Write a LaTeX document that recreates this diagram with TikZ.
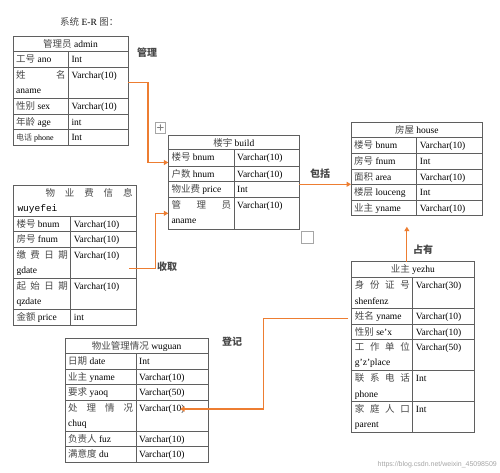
\documentclass[tikz,border=0pt]{standalone}
\usepackage{fontspec}
\setmainfont{Liberation Serif}
\setmonofont{Liberation Mono}
\setsansfont{Liberation Sans}
\newfontfamily\cjk{Noto Sans CJK SC}
\usetikzlibrary{calc,arrows.meta}
\definecolor{wordorange}{HTML}{ED7D31}
\definecolor{rulegray}{HTML}{5F5F5F}
\definecolor{zhgray}{HTML}{484848}
\tikzset{
  rowbox/.style={draw=rulegray, line width=0.7pt, inner sep=0pt, outer sep=0pt},
  cell/.style={anchor=base west, inner sep=0pt, font=\fontsize{9.5}{11}\selectfont},
  conn/.style={draw=wordorange, line width=1.1pt, -{Triangle[length=4.5pt,width=5pt]}},
  rel/.style={anchor=west, inner sep=0pt, font=\fontsize{10}{12}\selectfont\bfseries}
}
\newcommand\zh[1]{{\cjk\color{zhgray}#1}}
\newcommand\settable[3]{\def\xl{#1}\def\xm{#2}\def\xr{#3}}
\newcommand\spread[1]{\hbox to \dimexpr\xm pt-\xl pt-6pt\relax{#1}}
% header row: name, top, bottom, text
\newcommand\ehead[4]{%
  \pgfmathsetmacro\rw{\xr-\xl}
  \pgfmathsetmacro\rh{#3-#2}
  \node[rowbox, minimum width=\rw pt, minimum height=\rh pt] (#1) at ({(\xl+\xr)/2},{(#2+#3)/2}) {};
  \node[cell, anchor=base] (#1t) at ({(\xl+\xr)/2},#2+11) {#4};
}
% field row: name, top, bottom, field, field 2nd line, type
\newcommand\erow[6]{%
  \pgfmathsetmacro\rw{\xr-\xl}
  \pgfmathsetmacro\rh{#3-#2}
  \node[rowbox, minimum width=\rw pt, minimum height=\rh pt] (#1) at ({(\xl+\xr)/2},{(#2+#3)/2}) {};
  \draw[rulegray, line width=0.7pt] (\xm,#2) -- (\xm,#3);
  \node[cell] (#1a) at (\xl+3,#2+11) {#4};
  \if\relax\detokenize{#5}\relax\else
    \node[cell] (#1b) at (\xl+3,#2+26.5) {#5};
  \fi
  \node[cell] (#1c) at (\xm+3,#2+11) {#6};
}

\begin{document}
\begin{tikzpicture}[x=1pt, y=-1pt]
  \fill[white] (0,0) rectangle (500,472);
  \useasboundingbox (0,0) rectangle (500,472);

  \node[cell] (title) at (60,25.5) {\zh{系统} E-R \zh{图：}};

  % admin
  \settable{13}{68.3}{128}
  \ehead{admin}{36.7}{51.7}{\zh{管理员} admin}
  \erow{admin1}{51.7}{67.3}{\zh{工号} ano}{}{Int}
  \erow{admin2}{67.3}{98.3}{\spread{\zh{姓}\hfill\zh{名}}}{aname}{Varchar(10)}
  \erow{admin3}{98.3}{114}{\zh{性别} sex}{}{Varchar(10)}
  \erow{admin4}{114}{129.3}{\zh{年龄} age}{}{int}
  \erow{admin5}{129.3}{145.7}{\fontsize{8}{9}\selectfont\zh{电话} phone}{}{Int}

  % build
  \settable{168.3}{234}{299.3}
  \ehead{build}{135}{149.3}{\zh{楼宇} build}
  \erow{build1}{149.3}{166.7}{\zh{楼号} bnum}{}{Varchar(10)}
  \erow{build2}{166.7}{181.7}{\zh{户数} hnum}{}{Varchar(10)}
  \erow{build3}{181.7}{197.3}{\zh{物业费} price}{}{Int}
  \erow{build4}{197.3}{229.3}{\spread{\zh{管}\hfill\zh{理}\hfill\zh{员}}}{aname}{Varchar(10)}
  \draw[gray!70, line width=0.5pt] ([shift={(-13,-13)}]build.north west) rectangle ++(10,11);
  \draw[gray, line width=0.4pt, {Stealth[length=1.5pt]}-{Stealth[length=1.5pt]}] ([shift={(-11.5,-7.5)}]build.north west) -- ++(7,0);
  \draw[gray, line width=0.4pt, {Stealth[length=1.5pt]}-{Stealth[length=1.5pt]}] ([shift={(-8,-11)}]build.north west) -- ++(0,7);
  \draw[gray!70, line width=0.5pt] ([shift={(1.5,1.5)}]build4.south east) rectangle ++(12,12);

  % house
  \settable{351}{416.7}{482.7}
  \ehead{house}{122.3}{137.7}{\zh{房屋} house}
  \erow{house1}{137.7}{153.3}{\zh{楼号} bnum}{}{Varchar(10)}
  \erow{house2}{153.3}{169}{\zh{房号} fnum}{}{Int}
  \erow{house3}{169}{184.3}{\zh{面积} area}{}{Varchar(10)}
  \erow{house4}{184.3}{200}{\zh{楼层} louceng}{}{Int}
  \erow{house5}{200}{215.7}{\zh{业主} yname}{}{Varchar(10)}

  % wuyefei
  \settable{13.3}{70.7}{136.7}
  \node[rowbox, minimum width=123.4pt, minimum height=31pt] (wuyefei) at (75,200.5) {};
  \node[cell, anchor=base east] (wuyefeit) at (\xr-4,196) {\hbox to 87pt{\zh{物}\hfill\zh{业}\hfill\zh{费}\hfill\zh{信}\hfill\zh{息}}};
  \node[cell] (wuyefeis) at (\xl+4,211.5) {\ttfamily wuyefei};
  \erow{wuyefei1}{216}{231.7}{\zh{楼号} bnum}{}{Varchar(10)}
  \erow{wuyefei2}{231.7}{247.3}{\zh{房号} fnum}{}{Varchar(10)}
  \erow{wuyefei3}{247.3}{278.3}{\spread{\zh{缴}\hfill\zh{费}\hfill\zh{日}\hfill\zh{期}}}{gdate}{Varchar(10)}
  \erow{wuyefei4}{278.3}{309.3}{\spread{\zh{起}\hfill\zh{始}\hfill\zh{日}\hfill\zh{期}}}{qzdate}{Varchar(10)}
  \erow{wuyefei5}{309.3}{325}{\zh{金额} price}{}{int}

  % yezhu
  \settable{351.7}{412.7}{474}
  \ehead{yezhu}{261.7}{277.7}{\zh{业主} yezhu}
  \erow{yezhu1}{277.7}{308.3}{\spread{\zh{身}\hfill\zh{份}\hfill\zh{证}\hfill\zh{号}}}{shenfenz}{Varchar(30)}
  \erow{yezhu2}{308.3}{324}{\zh{姓名} yname}{}{Varchar(10)}
  \erow{yezhu3}{324}{339.3}{\zh{性别} se'x}{}{Varchar(10)}
  \erow{yezhu4}{339.3}{370.7}{\spread{\zh{工}\hfill\zh{作}\hfill\zh{单}\hfill\zh{位}}}{g'z'place}{Varchar(50)}
  \erow{yezhu5}{370.7}{401}{\spread{\zh{联}\hfill\zh{系}\hfill\zh{电}\hfill\zh{话}}}{phone}{Int}
  \erow{yezhu6}{401}{432.3}{\spread{\zh{家}\hfill\zh{庭}\hfill\zh{人}\hfill\zh{口}}}{parent}{Int}

  % wuguan
  \settable{65}{136}{208.3}
  \ehead{wuguan}{338.3}{353.3}{\zh{物业管理情况} wuguan}
  \erow{wuguan1}{353.3}{369}{\zh{日期} date}{}{Int}
  \erow{wuguan2}{369}{384.3}{\zh{业主} yname}{}{Varchar(10)}
  \erow{wuguan3}{384.3}{400}{\zh{要求} yaoq}{}{Varchar(50)}
  \erow{wuguan4}{400}{431}{\spread{\zh{处}\hfill\zh{理}\hfill\zh{情}\hfill\zh{况}}}{chuq}{Varchar(10)}
  \erow{wuguan5}{431}{446.7}{\zh{负责人} fuz}{}{Varchar(10)}
  \erow{wuguan6}{446.7}{462.3}{\zh{满意度} du}{}{Varchar(10)}

  % relations
  \draw[conn] (admin2.east) -- ++(20,0) |- ([yshift=-4.5pt]build1.west);
  \node[rel] (guanli) at (137,53) {\zh{管理}};
  \draw[conn] (build.east |- house3.south west) -- (house3.south west);
  \node[rel] (baokuo) at (310,174) {\zh{包括}};
  \draw[conn] ([xshift=-7.5pt,yshift=-5.5pt]wuyefei3.east) -- ++(26,0) |- (build4.west);
  \node[rel] (shouqu) at (157,267) {\zh{收取}};
  \draw[conn, shorten >=11pt] ([xshift=-6pt]yezhu.north) -- ([xshift=-6pt]yezhu.north |- house5.south);
  \node[rel] (zhanyou) at (413,250) {\zh{占有}};
  \draw[conn] ([xshift=-3.5pt,yshift=-2pt]yezhu2.west) -- ++(-85,0) |- ([xshift=-28.3pt,yshift=-9pt]wuguan4.north east);
  \node[rel] (dengji) at (222,342) {\zh{登记}};

  \node[anchor=base east, inner sep=0pt, font=\sffamily\fontsize{7}{8}\selectfont, text=gray!70] (mark) at (497,466) {https://blog.csdn.net/weixin\_45098509};
\end{tikzpicture}
\end{document}
